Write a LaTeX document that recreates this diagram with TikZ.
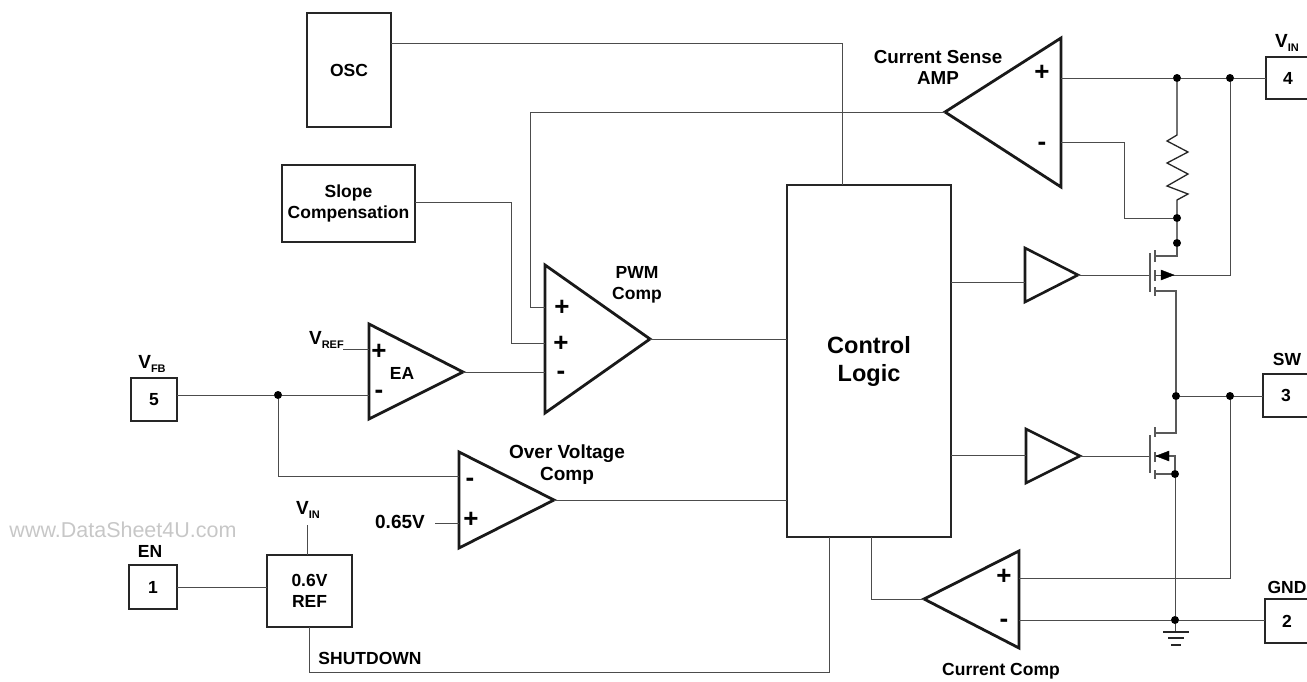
\documentclass[tikz,border=0pt]{standalone}
\usepackage{fontspec}
\setmainfont{Liberation Sans}
\newcommand{\subtxt}[2]{{\fontsize{19}{19}\selectfont #1}\raisebox{-.5ex}{\fontsize{11}{11}\selectfont #2}}
\tikzset{
  fbbox/.style={draw=black!85, line width=1.6pt, inner sep=0pt, align=center, font=\fontsize{17.5}{21}\selectfont\bfseries},
  fbamp/.style={draw=black!90, line width=2.8pt, line join=miter},
  fbbuf/.style={draw=black!90, line width=2.6pt, line join=miter},
  fbwire/.style={draw=black!70, line width=1pt},
  fbfet/.style={draw=black!65, line width=1.1pt},
  fbres/.style={draw=black!85, line width=1.3pt},
  fbdot/.style={circle, fill=black, inner sep=0pt, minimum size=8pt},
  fbtext/.style={inner sep=0pt, align=center, font=\fontsize{17.5}{21}\selectfont\bfseries},
  fbsign/.style={inner sep=0pt, font=\fontsize{26}{26}\selectfont\bfseries}
}
\begin{document}
\begin{tikzpicture}[x=1pt, y=-1pt]
\useasboundingbox (0,0) rectangle (1307,681);

\node[fbbox, minimum width=84pt, minimum height=114pt] (osc) at (349,70) {OSC};
\node[fbbox, minimum width=133pt, minimum height=77pt] (slope) at (348.5,203.5) {Slope\\Compensation};
\node[fbbox, minimum width=164pt, minimum height=352pt, font=\fontsize{23.5}{28}\selectfont\bfseries] (logic) at (869,361) {Control\\Logic};
\node[fbbox, minimum width=85pt, minimum height=72pt] (ref) at (309.5,591) {0.6V\\REF};
\node[fbbox, minimum width=46pt, minimum height=43pt] (pinfb) at (154,399.5) {5};
\node[fbbox, minimum width=48pt, minimum height=44pt] (pinen) at (153,587) {1};
\node[fbbox, minimum width=44pt, minimum height=42pt] (pinvin) at (1288,78) {4};
\node[fbbox, minimum width=46pt, minimum height=43pt] (pinsw) at (1286,395.5) {3};
\node[fbbox, minimum width=44pt, minimum height=44pt] (pingnd) at (1287,621) {2};

\coordinate (csapex) at (945,112);
\coordinate (cstop) at (1061,38);
\coordinate (csbot) at (1061,187);
\coordinate (csplus) at (1061,78);
\coordinate (csminus) at (1061,142);
\coordinate (pwmtop) at (545,265);
\coordinate (pwmbot) at (545,413);
\coordinate (pwmapex) at (650,339);
\coordinate (pwmin1) at (545,307);
\coordinate (pwmin2) at (545,343);
\coordinate (pwmin3) at (545,372);
\coordinate (eatop) at (369,324);
\coordinate (eabot) at (369,419);
\coordinate (eaapex) at (463,372);
\coordinate (eaplus) at (369,349);
\coordinate (eaminus) at (369,395);
\coordinate (ovtop) at (459,452);
\coordinate (ovbot) at (459,548);
\coordinate (ovapex) at (554,500);
\coordinate (ovminus) at (459,476);
\coordinate (ovplus) at (459,523);
\coordinate (cctop) at (1019,551);
\coordinate (ccbot) at (1019,648);
\coordinate (ccapex) at (924,599);
\coordinate (ccplus) at (1019,578);
\coordinate (ccminus) at (1019,620);
\coordinate (buftop1) at (1025,248);
\coordinate (buftop2) at (1025,302);
\coordinate (buftopapex) at (1078,275);
\coordinate (bufbot1) at (1026,429);
\coordinate (bufbot2) at (1026,483);
\coordinate (bufbotapex) at (1080,456);

\draw[fbamp] (csapex) -- (cstop) -- (csbot) -- cycle;
\draw[fbamp] (pwmtop) -- (pwmapex) -- (pwmbot) -- cycle;
\draw[fbamp] (eatop) -- (eaapex) -- (eabot) -- cycle;
\draw[fbamp] (ovtop) -- (ovapex) -- (ovbot) -- cycle;
\draw[fbamp] (ccapex) -- (cctop) -- (ccbot) -- cycle;
\draw[fbbuf] (buftop1) -- (buftopapex) -- (buftop2) -- cycle;
\draw[fbbuf] (bufbot1) -- (bufbotapex) -- (bufbot2) -- cycle;

\node[fbdot] (dotfb) at (278,395) {};
\node[fbdot] (dotvina) at (1177,78) {};
\node[fbdot] (dotvinb) at (1230,78) {};
\node[fbdot] (dotsense) at (1177,218) {};
\node[fbdot] (dotdrain) at (1177,243) {};
\node[fbdot] (dotswa) at (1176,396) {};
\node[fbdot] (dotswb) at (1230,396) {};
\node[fbdot] (dotsrc) at (1175,474) {};
\node[fbdot] (dotgnd) at (1175,620) {};

\coordinate (oscout) at (391,43);
\coordinate (oscin) at (842,185);
\coordinate (slopeout) at (415,202);
\coordinate (logicin) at (787,339);
\coordinate (logicov) at (787,500);
\coordinate (logicbufa) at (951,282);
\coordinate (logicbufb) at (951,455);
\coordinate (logiccc) at (871,537);
\coordinate (logicsd) at (829,537);
\coordinate (bufina) at (1025,282);
\coordinate (bufinb) at (1026,455);
\coordinate (fbout) at (177,395);
\coordinate (enout) at (177,587);
\coordinate (refin) at (267,587);
\coordinate (refvin) at (307,525);
\coordinate (reftop) at (307,555);
\coordinate (refbot) at (309,627);
\coordinate (vrefend) at (343,349);
\coordinate (ovref) at (435,523);
\coordinate (vinin) at (1266,78);
\coordinate (swin) at (1263,396);
\coordinate (gndin) at (1265,620);

\draw[fbwire] (oscout) -| (oscin);
\draw[fbwire] (slopeout) -| (511,343) -- (pwmin2);
\draw[fbwire] (csapex) -| (530,307) -- (pwmin1);
\draw[fbwire] (eaapex) -- (pwmin3);
\draw[fbwire] (pwmapex) -- (logicin);
\draw[fbwire] (ovapex) -- (logicov);
\draw[fbwire] (fbout) -- (dotfb) -- (eaminus);
\draw[fbwire] (dotfb) |- (ovminus);
\draw[fbwire] (vrefend) -- (eaplus);
\draw[fbwire] (ovref) -- (ovplus);
\draw[fbwire] (enout) -- (refin);
\draw[fbwire] (refvin) -- (reftop);
\draw[fbwire] (refbot) |- (829,672) -- (logicsd);
\draw[fbwire] (logiccc) |- (ccapex);
\draw[fbwire] (logicbufa) -- (bufina);
\draw[fbwire] (logicbufb) -- (bufinb);
\draw[fbwire] (csplus) -- (dotvina) -- (dotvinb) -- (vinin);
\draw[fbwire] (csminus) -| (1124,218) -- (dotsense);
\draw[fbres] (dotvina) -- (1177,135) -- (1167,141) -- (1188,152) -- (1167,163) -- (1188,174) -- (1167,186) -- (1188,194) -- (1177,200) -- (dotsense) -- (dotdrain);
\draw[fbwire] (dotswa) -- (dotswb) -- (swin);
\draw[fbwire] (ccplus) -| (dotswb);
\draw[fbwire] (ccminus) -- (dotgnd) -- (gndin);
\draw[fbwire] (dotgnd) -- (dotsrc);

\coordinate (gatetop) at (1150,275);
\coordinate (gatebot) at (1150,456);
\draw[fbwire] (buftopapex) -- (gatetop);
\draw[fbwire] (bufbotapex) -- (gatebot);
\draw[fbfet] (1150,253) -- (1150,292);
\draw[fbfet] (1155,250) -- (1155,262);
\draw[fbfet] (1155,270) -- (1155,281);
\draw[fbfet] (1155,287) -- (1155,296);
\draw[fbfet] (1155,256) -| (dotdrain);
\draw[fbfet] (1155,291) -| (dotswa);
\draw[fbwire] (1155,275) -| (dotvinb);
\draw[fill=black] (1161,270) -- (1174,275) -- (1161,280) -- cycle;
\draw[fbfet] (1150,435) -- (1150,473);
\draw[fbfet] (1155,427) -- (1155,437);
\draw[fbfet] (1155,452) -- (1155,462);
\draw[fbfet] (1155,470) -- (1155,479);
\draw[fbfet] (1155,433) -| (dotswa);
\draw[fbfet] (1155,474) -- (dotsrc);
\draw[fbfet] (1156,456) -| (dotsrc);
\draw[fill=black] (1156,456) -- (1169,451) -- (1169,461) -- cycle;

\coordinate (gnda) at (1175,632);
\draw[fbwire] (dotgnd) -- (gnda);
\draw[fbres] (1163,632) -- (1189,632);
\draw[fbres] (1168,638) -- (1184,638);
\draw[fbres] (1171,645) -- (1181,645);

\node[fbsign] (csp) at (1042,73) {+};
\node[fbsign] (csm) at (1042,146) {-};
\node[fbsign] (pwmpa) at (562,308) {+};
\node[fbsign] (pwmpb) at (561,344) {+};
\node[fbsign] (pwmm) at (561,375) {-};
\node[fbsign] (eap) at (379,352) {+};
\node[fbsign] (eam) at (379,394) {-};
\node[fbsign] (ovm) at (470,482) {-};
\node[fbsign] (ovp) at (471,520) {+};
\node[fbsign] (ccp) at (1004,577) {+};
\node[fbsign] (ccm) at (1004,623) {-};

\node[fbtext, font=\fontsize{18.8}{21}\selectfont\bfseries] (cslabel) at (938,67) {Current Sense\\AMP};
\node[fbtext] (pwmlabel) at (637,285) {PWM\\Comp};
\node[fbtext] (ealabel) at (402,373) {EA};
\node[fbtext, font=\fontsize{19}{22}\selectfont\bfseries] (ovlabel) at (567,465) {Over Voltage\\Comp};
\node[fbtext] (cclabel) at (1001,671) {Current Comp};
\node[fbtext] (vrefmark) at (344,340) [anchor=east] {\subtxt{V}{REF}};
\node[fbtext, font=\fontsize{19}{21}\selectfont\bfseries] (ovmark) at (400,522) {0.65V};
\node[fbtext] (sdlabel) at (370,658) {SHUTDOWN};
\node[fbtext] (fbmark) at (152,364) {\subtxt{V}{FB}};
\node[fbtext] (enmark) at (150,551) {EN};
\node[fbtext] (refmark) at (308,510) {\subtxt{V}{IN}};
\node[fbtext] (vinmark) at (1287,43) {\subtxt{V}{IN}};
\node[fbtext] (swmark) at (1287,359) {SW};
\node[fbtext] (gndmark) at (1287,587) {GND};
\node[inner sep=0pt, text=black!22, font=\fontsize{21.5}{21.5}\selectfont] (wmark) at (123,530) {www.DataSheet4U.com};
\end{tikzpicture}
\end{document}
